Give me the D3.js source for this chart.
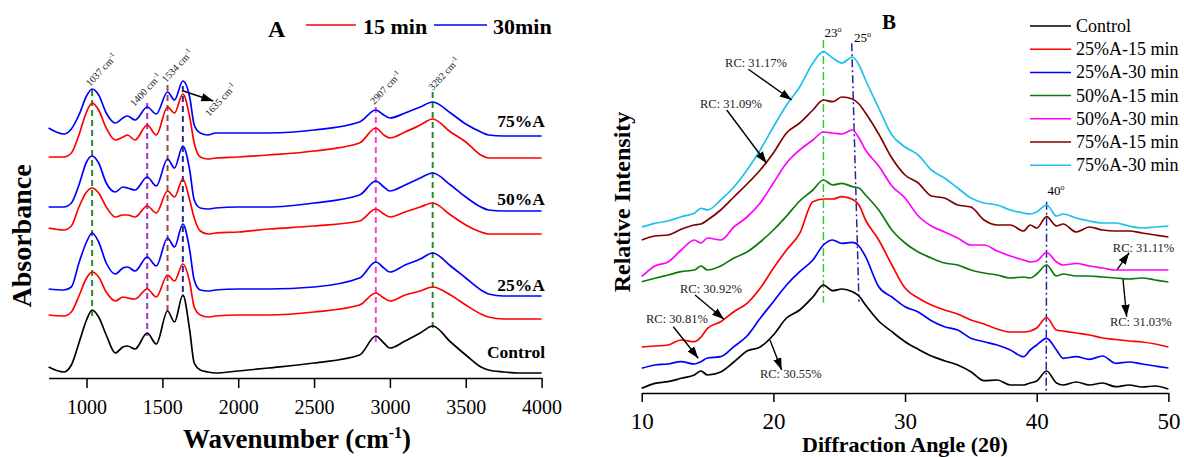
<!DOCTYPE html>
<html>
<head>
<meta charset="utf-8">
<title>FTIR and XRD spectra</title>
<script src="https://d3js.org/d3.v7.min.js"></script>
<style>
    body { margin: 0; background: #fff; }
    svg { font-family: "Liberation Serif", "Times New Roman", serif; }
    .axis path, .axis line { stroke: #000; stroke-width: 1.5; }
    .axis text { fill: #000; font-family: "Liberation Serif", serif; }
    .curve { fill: none; stroke-width: 1.7; stroke-linejoin: round; }
</style>
</head>
<body>
<svg width="1184" height="457"></svg>
<script>
    // ---------- Panel A : FTIR ----------
    const waveNumbers = [750, 850, 900, 950, 1000, 1037, 1080, 1130, 1190, 1240, 1270, 1320, 1400, 1460, 1534, 1580, 1635, 1680, 1710, 1750, 1800, 1850, 2000, 2200, 2500, 2800, 2907, 2960, 3000, 3100, 3200, 3282, 3400, 3500, 3600, 3650, 3750, 3850, 4000];

    const ftirControl = [0.11, 0.06, 0.13, 0.35, 0.58, 0.68, 0.61, 0.43, 0.25, 0.31, 0.32, 0.29, 0.45, 0.34, 0.67, 0.56, 0.83, 0.48, 0.15, 0.08, 0.06, 0.05, 0.07, 0.10, 0.15, 0.23, 0.42, 0.35, 0.30, 0.37, 0.45, 0.52, 0.36, 0.23, 0.11, 0.08, 0.06, 0.05, 0.05];
    const ftir25_15 = [0.63, 0.62, 0.66, 0.82, 1.00, 1.06, 1.01, 0.86, 0.77, 0.81, 0.80, 0.79, 0.89, 0.81, 1.03, 0.97, 1.14, 0.96, 0.71, 0.63, 0.61, 0.62, 0.63, 0.63, 0.66, 0.73, 0.85, 0.80, 0.77, 0.83, 0.87, 0.91, 0.83, 0.73, 0.64, 0.61, 0.59, 0.59, 0.59];
    const ftir25_30 = [0.89, 0.88, 0.91, 1.15, 1.36, 1.45, 1.36, 1.15, 1.04, 1.10, 1.11, 1.07, 1.21, 1.12, 1.40, 1.31, 1.54, 1.28, 0.98, 0.88, 0.87, 0.88, 0.89, 0.89, 0.91, 1.00, 1.16, 1.10, 1.06, 1.13, 1.19, 1.25, 1.12, 1.00, 0.88, 0.84, 0.82, 0.82, 0.82];
    const ftir50_15 = [1.50, 1.48, 1.52, 1.71, 1.86, 1.90, 1.85, 1.71, 1.61, 1.63, 1.63, 1.61, 1.72, 1.65, 1.87, 1.81, 1.99, 1.78, 1.60, 1.47, 1.44, 1.45, 1.46, 1.49, 1.52, 1.57, 1.69, 1.64, 1.61, 1.66, 1.71, 1.75, 1.63, 1.53, 1.46, 1.44, 1.44, 1.44, 1.44];
    const ftir50_30 = [1.71, 1.71, 1.75, 1.93, 2.16, 2.22, 2.15, 1.95, 1.86, 1.91, 1.90, 1.88, 2.01, 1.92, 2.19, 2.10, 2.32, 2.08, 1.78, 1.70, 1.69, 1.70, 1.71, 1.71, 1.75, 1.83, 1.97, 1.91, 1.87, 1.93, 2.00, 2.05, 1.93, 1.81, 1.71, 1.68, 1.67, 1.67, 1.67];
    const ftir75_15 = [2.21, 2.21, 2.25, 2.43, 2.66, 2.75, 2.68, 2.50, 2.38, 2.41, 2.43, 2.38, 2.53, 2.43, 2.71, 2.65, 2.84, 2.61, 2.35, 2.21, 2.19, 2.20, 2.21, 2.23, 2.27, 2.35, 2.50, 2.43, 2.40, 2.46, 2.53, 2.59, 2.46, 2.36, 2.23, 2.20, 2.20, 2.20, 2.20];
    const ftir75_30 = [2.50, 2.44, 2.49, 2.63, 2.82, 2.89, 2.83, 2.65, 2.55, 2.60, 2.62, 2.58, 2.71, 2.64, 2.86, 2.78, 2.97, 2.81, 2.53, 2.45, 2.43, 2.45, 2.45, 2.45, 2.48, 2.56, 2.68, 2.63, 2.60, 2.65, 2.71, 2.76, 2.65, 2.54, 2.46, 2.43, 2.42, 2.42, 2.42];

    const ftirTicks = [1000, 1500, 2000, 2500, 3000, 3500, 4000];
    const peakWavenumbers = [1037, 1400, 1534, 1635, 2907, 3282];
    const peakLabels = ["1037", "1400", "1534", "1635", "2907", "3282"];
    const groupLabels = ["75%A", "50%A", "25%A", "Control"];

    // ---------- Panel B : XRD ----------
    const angles = [10, 11, 12, 13, 14, 14.5, 15, 16, 17, 18, 19, 20, 21, 22, 23, 23.8, 24.5, 25.2, 26, 26.5, 27, 28, 29, 30, 31, 32, 33, 34, 35, 36, 37, 38, 39, 39.5, 40, 40.75, 41.5, 42, 43, 44, 45, 46, 47, 48, 49, 50];

    const xrdControl = [47, 97, 113, 147, 180, 220, 180, 210, 310, 420, 460, 580, 750, 830, 960, 1080, 1023, 1040, 1013, 970, 880, 720, 613, 513, 437, 370, 323, 280, 213, 123, 130, 80, 80, 100, 120, 220, 100, 80, 110, 80, 100, 63, 80, 60, 70, 40];
    const xrd25_15 = [460, 470, 480, 530, 513, 560, 647, 713, 813, 897, 1047, 1247, 1430, 1597, 1913, 1940, 1940, 1963, 1937, 1880, 1730, 1530, 1280, 1050, 950, 880, 830, 790, 730, 690, 640, 610, 610, 620, 650, 755, 630, 620, 600, 580, 550, 535, 520, 510, 490, 460];
    const xrd25_30 = [247, 280, 290, 313, 290, 313, 350, 363, 463, 570, 747, 913, 1080, 1213, 1330, 1480, 1530, 1497, 1507, 1470, 1363, 1063, 960, 863, 810, 723, 663, 630, 547, 513, 480, 430, 363, 430, 480, 547, 430, 347, 363, 337, 370, 297, 310, 290, 270, 250];
    const xrd50_15 = [1113, 1147, 1180, 1213, 1230, 1270, 1230, 1270, 1350, 1410, 1510, 1630, 1770, 1920, 2030, 2130, 2080, 2097, 2063, 2050, 1980, 1830, 1630, 1500, 1410, 1350, 1300, 1280, 1230, 1200, 1180, 1150, 1160, 1150, 1190, 1280, 1170, 1190, 1170, 1170, 1160, 1150, 1140, 1150, 1130, 1110];
    const xrd50_30 = [1163, 1270, 1310, 1430, 1530, 1500, 1550, 1530, 1660, 1760, 1900, 2100, 2300, 2430, 2530, 2610, 2600, 2590, 2630, 2550, 2430, 2270, 2070, 1950, 1770, 1670, 1610, 1550, 1480, 1480, 1420, 1370, 1330, 1310, 1320, 1405, 1310, 1280, 1295, 1270, 1250, 1230, 1230, 1230, 1230, 1230];
    const xrd75_15 = [1530, 1570, 1580, 1637, 1680, 1690, 1730, 1830, 1960, 2090, 2230, 2400, 2600, 2700, 2830, 2930, 2913, 2960, 2940, 2890, 2800, 2590, 2350, 2180, 2100, 1970, 1950, 1880, 1860, 1730, 1680, 1680, 1620, 1680, 1650, 1763, 1670, 1690, 1610, 1660, 1630, 1620, 1620, 1600, 1580, 1560];
    const xrd75_30 = [1660, 1697, 1720, 1763, 1797, 1847, 1830, 1930, 2060, 2230, 2430, 2660, 2880, 3060, 3300, 3413, 3350, 3300, 3360, 3280, 3130, 2850, 2580, 2460, 2380, 2230, 2150, 2050, 1950, 1900, 1880, 1830, 1800, 1790, 1810, 1880, 1770, 1790, 1750, 1720, 1700, 1700, 1670, 1650, 1660, 1670];

    const xrdNames = ["Control", "25%A-15 min", "25%A-30 min", "50%A-15 min", "50%A-30 min", "75%A-15 min", "75%A-30 min"];
    const xrdTicks = [10, 20, 30, 40, 50];
    const rcLabels = ["RC: 31.17%", "RC: 31.09%", "RC: 30.92%", "RC: 30.81%", "RC: 30.55%", "RC: 31.11%", "RC: 31.03%"];

    // ---------- setup ----------
    const svg = d3.select("svg");

    svg.append("defs").append("marker")
        .attr("id", "arrow")
        .attr("markerUnits", "userSpaceOnUse")
        .attr("viewBox", "0 -5 12 10")
        .attr("refX", 12).attr("refY", 0)
        .attr("markerWidth", 12).attr("markerHeight", 10)
        .attr("orient", "auto")
        .append("path")
        .attr("d", "M0,-4.2L12,0L0,4.2Z")
        .attr("fill", "#000");

    // ================= Panel A =================
    const xA = d3.scaleLinear().domain([750, 4000]).range([48.6, 541.6]);
    const yA = d3.scaleLinear().domain([0, 3.5]).range([378, 28]);

    const gA = svg.append("g");

    gA.append("g")
        .attr("class", "axis")
        .attr("transform", "translate(0,378)")
        .call(d3.axisBottom(xA).tickValues(ftirTicks).tickFormat(d3.format("d"))
            .tickSize(10).tickSizeOuter(0).tickPadding(12))
        .attr("font-family", "Liberation Serif")
        .selectAll("text").style("font-size", "20px");

    const lineA = d3.line()
        .x((d, i) => xA(waveNumbers[i]))
        .y(d => yA(d))
        .curve(d3.curveMonotoneX);

    // peak marker lines (drawn first, behind the spectra)
    const peakColors = ["#2a8a2a", "#a030d0", "#a04848", "#2a2a8c", "#ff3cd0", "#2a8a2a"];
    const peakSpan = [[2.88, 0.58], [2.75, 0.42], [2.93, 0.65], [2.92, 0.81], [2.71, 0.36], [2.86, 0.48]];
    peakWavenumbers.forEach((w, i) => {
        gA.append("line")
            .attr("x1", xA(w)).attr("x2", xA(w))
            .attr("y1", yA(peakSpan[i][0])).attr("y2", yA(peakSpan[i][1]))
            .attr("stroke", peakColors[i])
            .attr("stroke-width", 2)
            .attr("stroke-dasharray", "6,4");
    });

    const ftirSeries = [
        { v: ftirControl, c: "#000000" },
        { v: ftir25_15, c: "#ff0000" },
        { v: ftir25_30, c: "#0000ff" },
        { v: ftir50_15, c: "#ff0000" },
        { v: ftir50_30, c: "#0000ff" },
        { v: ftir75_15, c: "#ff0000" },
        { v: ftir75_30, c: "#0000ff" }
    ];
    gA.selectAll(".ftir")
        .data(ftirSeries)
        .enter().append("path")
        .attr("class", "curve ftir")
        .attr("stroke", d => d.c)
        .attr("d", d => lineA(d.v));

    // peak labels (rotated)
    const peakLabelPos = [[1023, 2.91], [1315, 2.71], [1524, 2.95], [1809, 2.61], [2897, 2.73], [3282, 2.87]];
    peakLabels.forEach((t, i) => {
        const px = xA(peakLabelPos[i][0]), py = yA(peakLabelPos[i][1]);
        const txt = gA.append("text")
            .attr("transform", `translate(${px},${py}) rotate(-47)`)
            .style("font-size", "10px")
            .attr("fill", "#222")
            .text(t + " cm");
        txt.append("tspan").attr("dy", -4).style("font-size", "7px").text("-1");
    });

    // arrow to 1635 label
    gA.append("line")
        .attr("x1", xA(1638)).attr("y1", yA(2.87))
        .attr("x2", xA(1836)).attr("y2", yA(2.77))
        .attr("stroke", "#000").attr("stroke-width", 1.5)
        .attr("marker-end", "url(#arrow)");

    // group labels
    const groupLabelY = [2.51, 1.73, 0.87, 0.20];
    groupLabels.forEach((t, i) => {
        gA.append("text")
            .attr("x", 545).attr("y", yA(groupLabelY[i]))
            .attr("text-anchor", "end")
            .style("font-size", "17.5px").style("font-weight", "bold")
            .text(t);
    });

    // title and legend
    gA.append("text").attr("x", 268).attr("y", 37)
        .style("font-size", "24px").style("font-weight", "bold").text("A");
    gA.append("line").attr("x1", 306).attr("x2", 356).attr("y1", 25).attr("y2", 25)
        .attr("stroke", "#ff0000").attr("stroke-width", 1.6);
    gA.append("text").attr("x", 363).attr("y", 33.5)
        .style("font-size", "22px").style("font-weight", "bold").text("15 min");
    gA.append("line").attr("x1", 434).attr("x2", 487).attr("y1", 25).attr("y2", 25)
        .attr("stroke", "#0000ff").attr("stroke-width", 1.6);
    gA.append("text").attr("x", 493).attr("y", 33.5)
        .style("font-size", "22px").style("font-weight", "bold").text("30min");

    // axis titles
    const xt = gA.append("text").attr("x", 297).attr("y", 448)
        .attr("text-anchor", "middle")
        .style("font-size", "27px").style("font-weight", "bold")
        .text("Wavenumber (cm");
    xt.append("tspan").attr("dy", -10).style("font-size", "16px").text("-1");
    xt.append("tspan").attr("dy", 10).text(")");

    gA.append("text")
        .attr("transform", "translate(31,236) rotate(-90)")
        .attr("text-anchor", "middle")
        .style("font-size", "28px").style("font-weight", "bold")
        .text("Absorbance");

    // ================= Panel B =================
    const xB = d3.scaleLinear().domain([10, 50]).range([641.7, 1168.4]);
    const yB = d3.scaleLinear().domain([0, 3500]).range([393, 43]);

    const gB = svg.append("g");

    gB.append("g")
        .attr("class", "axis")
        .attr("transform", "translate(0,393)")
        .call(d3.axisBottom(xB).tickValues(xrdTicks).tickSize(9).tickSizeOuter(0).tickPadding(11))
        .attr("font-family", "Liberation Serif")
        .selectAll("text").style("font-size", "23px");

    // reference lines (dash-dot)
    const refLines = [
        { a1: 23.8, a2: 23.8, top: 3530, bottom: 903, c: "#33cc33" },
        { a1: 25.95, a2: 26.5, top: 3497, bottom: 913, c: "#2424a0" },
        { a1: 40.75, a2: 40.72, top: 1913, bottom: 0, c: "#2424a0" }
    ];
    refLines.forEach(r => {
        gB.append("line")
            .attr("x1", xB(r.a1)).attr("x2", xB(r.a2))
            .attr("y1", yB(r.top)).attr("y2", yB(r.bottom))
            .attr("stroke", r.c).attr("stroke-width", 1.5)
            .attr("stroke-dasharray", "8,3,2,3");
    });

    const lineB = d3.line()
        .x((d, i) => xB(angles[i]))
        .y(d => yB(d))
        .curve(d3.curveMonotoneX);

    const xrdValues = [xrdControl, xrd25_15, xrd25_30, xrd50_15, xrd50_30, xrd75_15, xrd75_30];
    const xrdColors = ["#000000", "#ff0000", "#0000ff", "#0b7a0b", "#ff00ff", "#800000", "#1ec0ee"];

    gB.selectAll(".xrd")
        .data(xrdValues)
        .enter().append("path")
        .attr("class", "curve xrd")
        .attr("stroke", (d, i) => xrdColors[i])
        .attr("stroke-width", 1.4)
        .attr("d", d => lineB(d));

    // degree labels
    const degLabels = [["23", 23.8, 3560], ["25", 26.05, 3513], ["40", 40.75, 1980]];
    degLabels.forEach(d => {
        const t = gB.append("text").attr("x", xB(d[1]) + 1).attr("y", yB(d[2]))
            .style("font-size", "13px").text(d[0]);
        t.append("tspan").attr("dy", -5).style("font-size", "8px").text("o");
    });

    // RC annotations : [label angle, label intensity, arrow start angle, intensity, arrow tip angle, intensity]
    const rcPos = [
        [16.33, 3257, 18.1, 3237, 21.39, 2930],
        [14.43, 2847, 16.46, 2830, 19.49, 2297],
        [12.91, 997, 14.05, 980, 16.25, 737],
        [10.33, 697, 12.4, 663, 14.3, 347],
        [18.98, 147, 19.74, 530, 20.63, 230],
        [45.78, 1413, 46.12, 1237, 47.02, 1403],
        [45.56, 670, 46.55, 1137, 46.83, 763]
    ];
    rcLabels.forEach((t, i) => {
        const p = rcPos[i];
        gB.append("line")
            .attr("x1", xB(p[2])).attr("y1", yB(p[3]))
            .attr("x2", xB(p[4])).attr("y2", yB(p[5]))
            .attr("stroke", "#000").attr("stroke-width", 1.4)
            .attr("marker-end", "url(#arrow)");
        gB.append("text").attr("x", xB(p[0])).attr("y", yB(p[1]))
            .style("font-size", "12.5px").attr("fill", "#222").text(t);
    });

    // legend
    xrdNames.forEach((n, i) => {
        const y = 26 + i * 23.2;
        gB.append("line").attr("x1", 1030).attr("x2", 1071).attr("y1", y).attr("y2", y)
            .attr("stroke", xrdColors[i]).attr("stroke-width", 1.5);
        gB.append("text").attr("x", 1076).attr("y", y + 6)
            .style("font-size", "18px").text(n);
    });

    // title and axis titles
    gB.append("text").attr("x", 882).attr("y", 28.5)
        .style("font-size", "21px").style("font-weight", "bold").text("B");

    gB.append("text").attr("x", 905).attr("y", 452)
        .attr("text-anchor", "middle")
        .style("font-size", "22px").style("font-weight", "bold")
        .text("Diffraction Angle (2θ)");

    gB.append("text")
        .attr("transform", "translate(630,202) rotate(-90)")
        .attr("text-anchor", "middle")
        .style("font-size", "24px").style("font-weight", "bold")
        .text("Relative Intensity");
</script>
</body>
</html>
